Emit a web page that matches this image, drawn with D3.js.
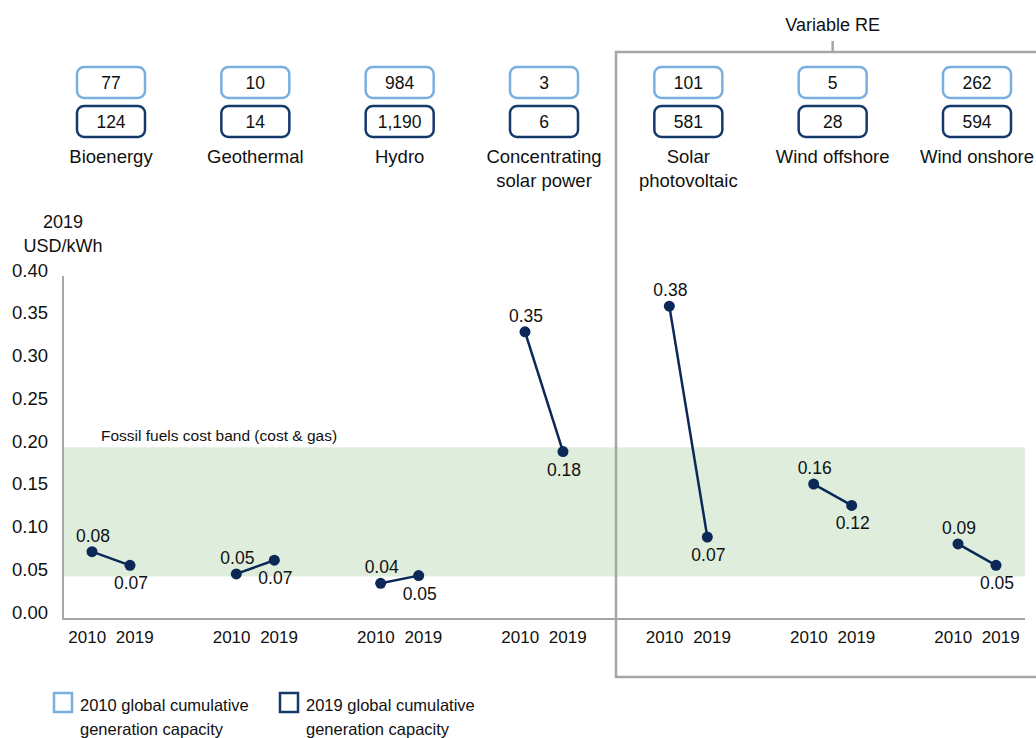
<!DOCTYPE html>
<html>
<head>
<meta charset="utf-8">
<script src="https://cdn.jsdelivr.net/npm/d3@7"></script>
<style>
  body { margin: 0; background: #fff; }
  text { font-family: 'Liberation Sans', Arial, sans-serif; fill: #111; }
</style>
</head>
<body>
<div id="chart"></div>
<script>
// categories and their label lines
let categories = ['Bioenergy', 'Geothermal', 'Hydro', 'Concentrating solar power', 'Solar photovoltaic', 'Wind offshore', 'Wind onshore']
let categoryLines = [['Bioenergy'], ['Geothermal'], ['Hydro'], ['Concentrating', 'solar power'], ['Solar', 'photovoltaic'], ['Wind offshore'], ['Wind onshore']]

// capacity boxes (GW)
let capacity2010 = ['77', '10', '984', '3', '101', '5', '262']
let capacity2019 = ['124', '14', '1,190', '6', '581', '28', '594']

// LCOE, 2019 USD/kWh (positions as drawn) and printed labels
let lcoe2010 = [0.071, 0.045, 0.034, 0.328, 0.358, 0.150, 0.080]
let lcoe2019 = [0.055, 0.061, 0.043, 0.188, 0.088, 0.125, 0.055]
let label2010 = ['0.08', '0.05', '0.04', '0.35', '0.38', '0.16', '0.09']
let label2019 = ['0.07', '0.07', '0.05', '0.18', '0.07', '0.12', '0.05']

let years = ['2010', '2019']
let yTicks = [0, 0.05, 0.1, 0.15, 0.2, 0.25, 0.3, 0.35, 0.4]
let fossilBand = [0.042, 0.193]
let variableRE = ['Solar photovoltaic', 'Wind offshore', 'Wind onshore']

let width = 1036
let height = 738

let svg = d3
  .select('#chart')
  .append('svg')
  .attr('width', width)
  .attr('height', height)

let xScale = d3.scalePoint().domain(categories).range([111, 977])
let yearScale = d3.scalePoint().domain(years).range([-19, 19])
let yScale = d3.scaleLinear().domain([0, 0.4]).range([612.4, 270.2])

let axisLeft = 63
let axisRight = 1025
let axisBottom = 619

let light = '#79afe0'
let dark = '#15396b'
let navy = '#0b2857'
let grey = '#a6a6a6'

// fossil band
svg
  .append('rect')
  .attr('x', axisLeft)
  .attr('width', axisRight - axisLeft)
  .attr('y', yScale(fossilBand[1]))
  .attr('height', yScale(fossilBand[0]) - yScale(fossilBand[1]))
  .attr('fill', '#dfeddc')

svg
  .append('text')
  .attr('x', 101)
  .attr('y', yScale(fossilBand[1]) - 6)
  .attr('font-size', 15.5)
  .text('Fossil fuels cost band (cost & gas)')

// axes lines
svg
  .append('line')
  .attr('x1', axisLeft)
  .attr('x2', axisLeft)
  .attr('y1', 276)
  .attr('y2', axisBottom)
  .attr('stroke', grey)
  .attr('stroke-width', 2)

svg
  .append('line')
  .attr('x1', axisLeft - 1)
  .attr('x2', axisRight)
  .attr('y1', axisBottom)
  .attr('y2', axisBottom)
  .attr('stroke', grey)
  .attr('stroke-width', 2)

// y tick labels
let yAxis = d3.axisLeft(yScale).tickValues(yTicks).tickFormat(d3.format('.2f')).tickSize(0).tickPadding(0)
let yG = svg
  .append('g')
  .attr('transform', 'translate(48,0)')
  .call(yAxis)
yG.select('.domain').remove()
yG.selectAll('text')
  .attr('font-size', 18.5)
  .attr('font-family', "'Liberation Sans', Arial, sans-serif")
  .attr('fill', '#111')

svg
  .append('text')
  .attr('x', 63)
  .attr('y', 228)
  .attr('text-anchor', 'middle')
  .attr('font-size', 18)
  .text('2019')
svg
  .append('text')
  .attr('x', 63)
  .attr('y', 252)
  .attr('text-anchor', 'middle')
  .attr('font-size', 18)
  .text('USD/kWh')

// variable RE bracket
let reLeft = 616
let reX = d3.mean(variableRE, d => xScale(d))
svg
  .append('path')
  .attr('d', `M${width + 5},52 H${reLeft} V677 H${width + 5}`)
  .attr('fill', 'none')
  .attr('stroke', grey)
  .attr('stroke-width', 2.5)
svg
  .append('line')
  .attr('x1', reX)
  .attr('x2', reX)
  .attr('y1', 41)
  .attr('y2', 52)
  .attr('stroke', grey)
  .attr('stroke-width', 2.5)
svg
  .append('text')
  .attr('x', reX)
  .attr('y', 31)
  .attr('text-anchor', 'middle')
  .attr('font-size', 18)
  .text('Variable RE')

// capacity boxes and category names
let cat = svg
  .selectAll('.category')
  .data(categories)
  .enter()
  .append('g')
  .attr('class', 'category')
  .attr('transform', d => `translate(${xScale(d)},0)`)

cat
  .append('rect')
  .attr('x', -34)
  .attr('y', 67)
  .attr('width', 68)
  .attr('height', 31)
  .attr('rx', 7)
  .attr('fill', '#fff')
  .attr('stroke', light)
  .attr('stroke-width', 2.5)

cat
  .append('rect')
  .attr('x', -34)
  .attr('y', 106)
  .attr('width', 68)
  .attr('height', 31)
  .attr('rx', 7)
  .attr('fill', '#fff')
  .attr('stroke', dark)
  .attr('stroke-width', 2.5)

cat
  .append('text')
  .attr('y', 89)
  .attr('text-anchor', 'middle')
  .attr('font-size', 17.5)
  .text((d, i) => capacity2010[i])

cat
  .append('text')
  .attr('y', 128)
  .attr('text-anchor', 'middle')
  .attr('font-size', 17.5)
  .text((d, i) => capacity2019[i])

cat
  .append('text')
  .attr('text-anchor', 'middle')
  .attr('font-size', 18.5)
  .selectAll('tspan')
  .data((d, i) => categoryLines[i])
  .enter()
  .append('tspan')
  .attr('x', 0)
  .attr('y', (d, i) => 163 + i * 24)
  .text(d => d)

// year labels
cat
  .selectAll('.year')
  .data(years)
  .enter()
  .append('text')
  .attr('class', 'year')
  .attr('x', d => yearScale(d) * 1.25)
  .attr('y', 643)
  .attr('text-anchor', 'middle')
  .attr('font-size', 17)
  .text(d => d)

// slopes
cat
  .append('line')
  .attr('x1', yearScale('2010'))
  .attr('x2', yearScale('2019'))
  .attr('y1', (d, i) => yScale(lcoe2010[i]))
  .attr('y2', (d, i) => yScale(lcoe2019[i]))
  .attr('stroke', navy)
  .attr('stroke-width', 2.5)

cat
  .append('circle')
  .attr('cx', yearScale('2010'))
  .attr('cy', (d, i) => yScale(lcoe2010[i]))
  .attr('r', 5.5)
  .attr('fill', navy)

cat
  .append('circle')
  .attr('cx', yearScale('2019'))
  .attr('cy', (d, i) => yScale(lcoe2019[i]))
  .attr('r', 5.5)
  .attr('fill', navy)

cat
  .append('text')
  .attr('x', yearScale('2010') + 1)
  .attr('y', (d, i) => yScale(lcoe2010[i]) - 10)
  .attr('text-anchor', 'middle')
  .attr('font-size', 17.5)
  .text((d, i) => label2010[i])

cat
  .append('text')
  .attr('x', yearScale('2019') + 1)
  .attr('y', (d, i) => yScale(lcoe2019[i]) + 24)
  .attr('text-anchor', 'middle')
  .attr('font-size', 17.5)
  .text((d, i) => label2019[i])

// legend
let legendItems = [
  { color: light, x: 54, lines: ['2010 global cumulative', 'generation capacity'] },
  { color: dark, x: 280, lines: ['2019 global cumulative', 'generation capacity'] }
]

let legend = svg
  .selectAll('.legend')
  .data(legendItems)
  .enter()
  .append('g')
  .attr('class', 'legend')
  .attr('transform', d => `translate(${d.x},693)`)

legend
  .append('rect')
  .attr('width', 18)
  .attr('height', 19)
  .attr('fill', '#fff')
  .attr('stroke', d => d.color)
  .attr('stroke-width', 2.5)

legend
  .append('text')
  .attr('font-size', 16.5)
  .selectAll('tspan')
  .data(d => d.lines)
  .enter()
  .append('tspan')
  .attr('x', 26)
  .attr('y', (d, i) => 18 + i * 24)
  .text(d => d)
</script>
</body>
</html>
